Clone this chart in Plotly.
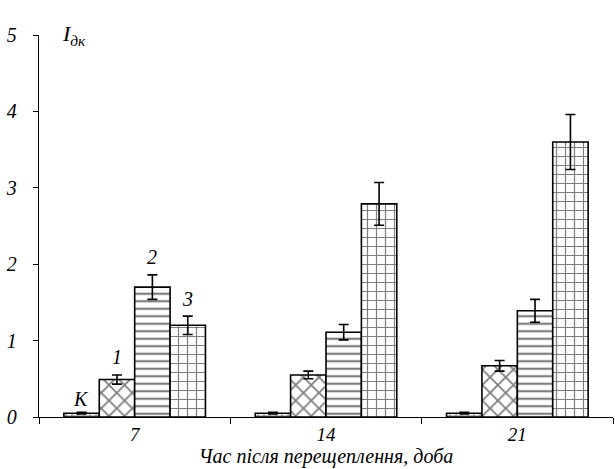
import plotly.graph_objects as go

# Days after transplantation
days = ["7", "14", "21"]

# Index values per group (K = control, 1-3 = experimental variants)
series_names = ["K", "1", "2", "3"]
values_K = [0.05, 0.05, 0.05]
values_1 = [0.49, 0.55, 0.67]
values_2 = [1.70, 1.11, 1.39]
values_3 = [1.20, 2.79, 3.60]
errors_K = [0.01, 0.01, 0.01]
errors_1 = [0.06, 0.05, 0.07]
errors_2 = [0.16, 0.10, 0.15]
errors_3 = [0.12, 0.28, 0.36]

y_ticks = [0, 1, 2, 3, 4, 5]

values = [values_K, values_1, values_2, values_3]
errors = [errors_K, errors_1, errors_2, errors_3]
patterns = [
    dict(shape="+", size=6, solidity=0.35),
    dict(shape="x", size=11, solidity=0.3),
    dict(shape="-", size=7.5, solidity=0.3),
    dict(shape="+", size=9, solidity=0.25),
]

serif = "Liberation Serif"

fig = go.Figure()
for name, vals, errs, pat in zip(series_names, values, errors, patterns):
    fig.add_trace(go.Bar(
        x=days, y=vals, name=name,
        marker=dict(
            color="white",
            line=dict(color="black", width=1.6),
            pattern=dict(fgcolor="black", bgcolor="white", fillmode="overlay", **pat),
        ),
        error_y=dict(type="data", array=errs, visible=True,
                     color="black", thickness=1.6, width=5),
        showlegend=False,
    ))

# Series labels above the first group (x is the category index on a category axis)
label_y = [values_K[0] + 0.18, values_1[0] + errors_1[0] + 0.24,
           values_2[0] + errors_2[0] + 0.24, values_3[0] + errors_3[0] + 0.22]
for i, (name, ly) in enumerate(zip(series_names, label_y)):
    fig.add_annotation(
        x=0, y=ly, text=f"<i>{name}</i>", showarrow=False,
        xshift=(i - 1.5) * 35.5, font=dict(family=serif, size=20, color="black"),
    )

# Y-axis title in the top-left corner
fig.add_annotation(
    xref="paper", yref="paper", x=0.036, y=1.0, xanchor="left", yanchor="middle",
    text="<i>I</i><sub><i>дк</i></sub>", showarrow=False,
    font=dict(family=serif, size=22, color="black"),
)

fig.update_layout(
    width=615, height=469,
    margin=dict(l=39, r=2, t=35, b=52),
    paper_bgcolor="white", plot_bgcolor="white",
    barmode="group", bargap=0.26, bargroupgap=0,
    font=dict(family=serif, color="black"),
)
fig.update_xaxes(
    type="category", range=[-0.5, 2.5],
    tickvals=days, ticktext=[f"<i>{d}</i>" for d in days],
    showline=True, linecolor="black", linewidth=1.3,
    ticks="outside", tickson="boundaries", ticklen=6, tickcolor="black", tickwidth=1.3,
    tickfont=dict(family=serif, size=19),
    title=dict(text="<i>Час після перещеплення, доба</i>", standoff=0,
               font=dict(family=serif, size=20)),
    showgrid=False,
)
fig.update_yaxes(
    range=[0, 5], tickvals=y_ticks, ticktext=[f"<i>{v}</i>" for v in y_ticks],
    showline=True, linecolor="black", linewidth=1.3,
    ticks="outside", ticklen=5, tickcolor="black", tickwidth=1.3,
    ticklabelstandoff=12,
    tickfont=dict(family=serif, size=20),
    showgrid=False, zeroline=False,
)

fig.write_html("out.html")
